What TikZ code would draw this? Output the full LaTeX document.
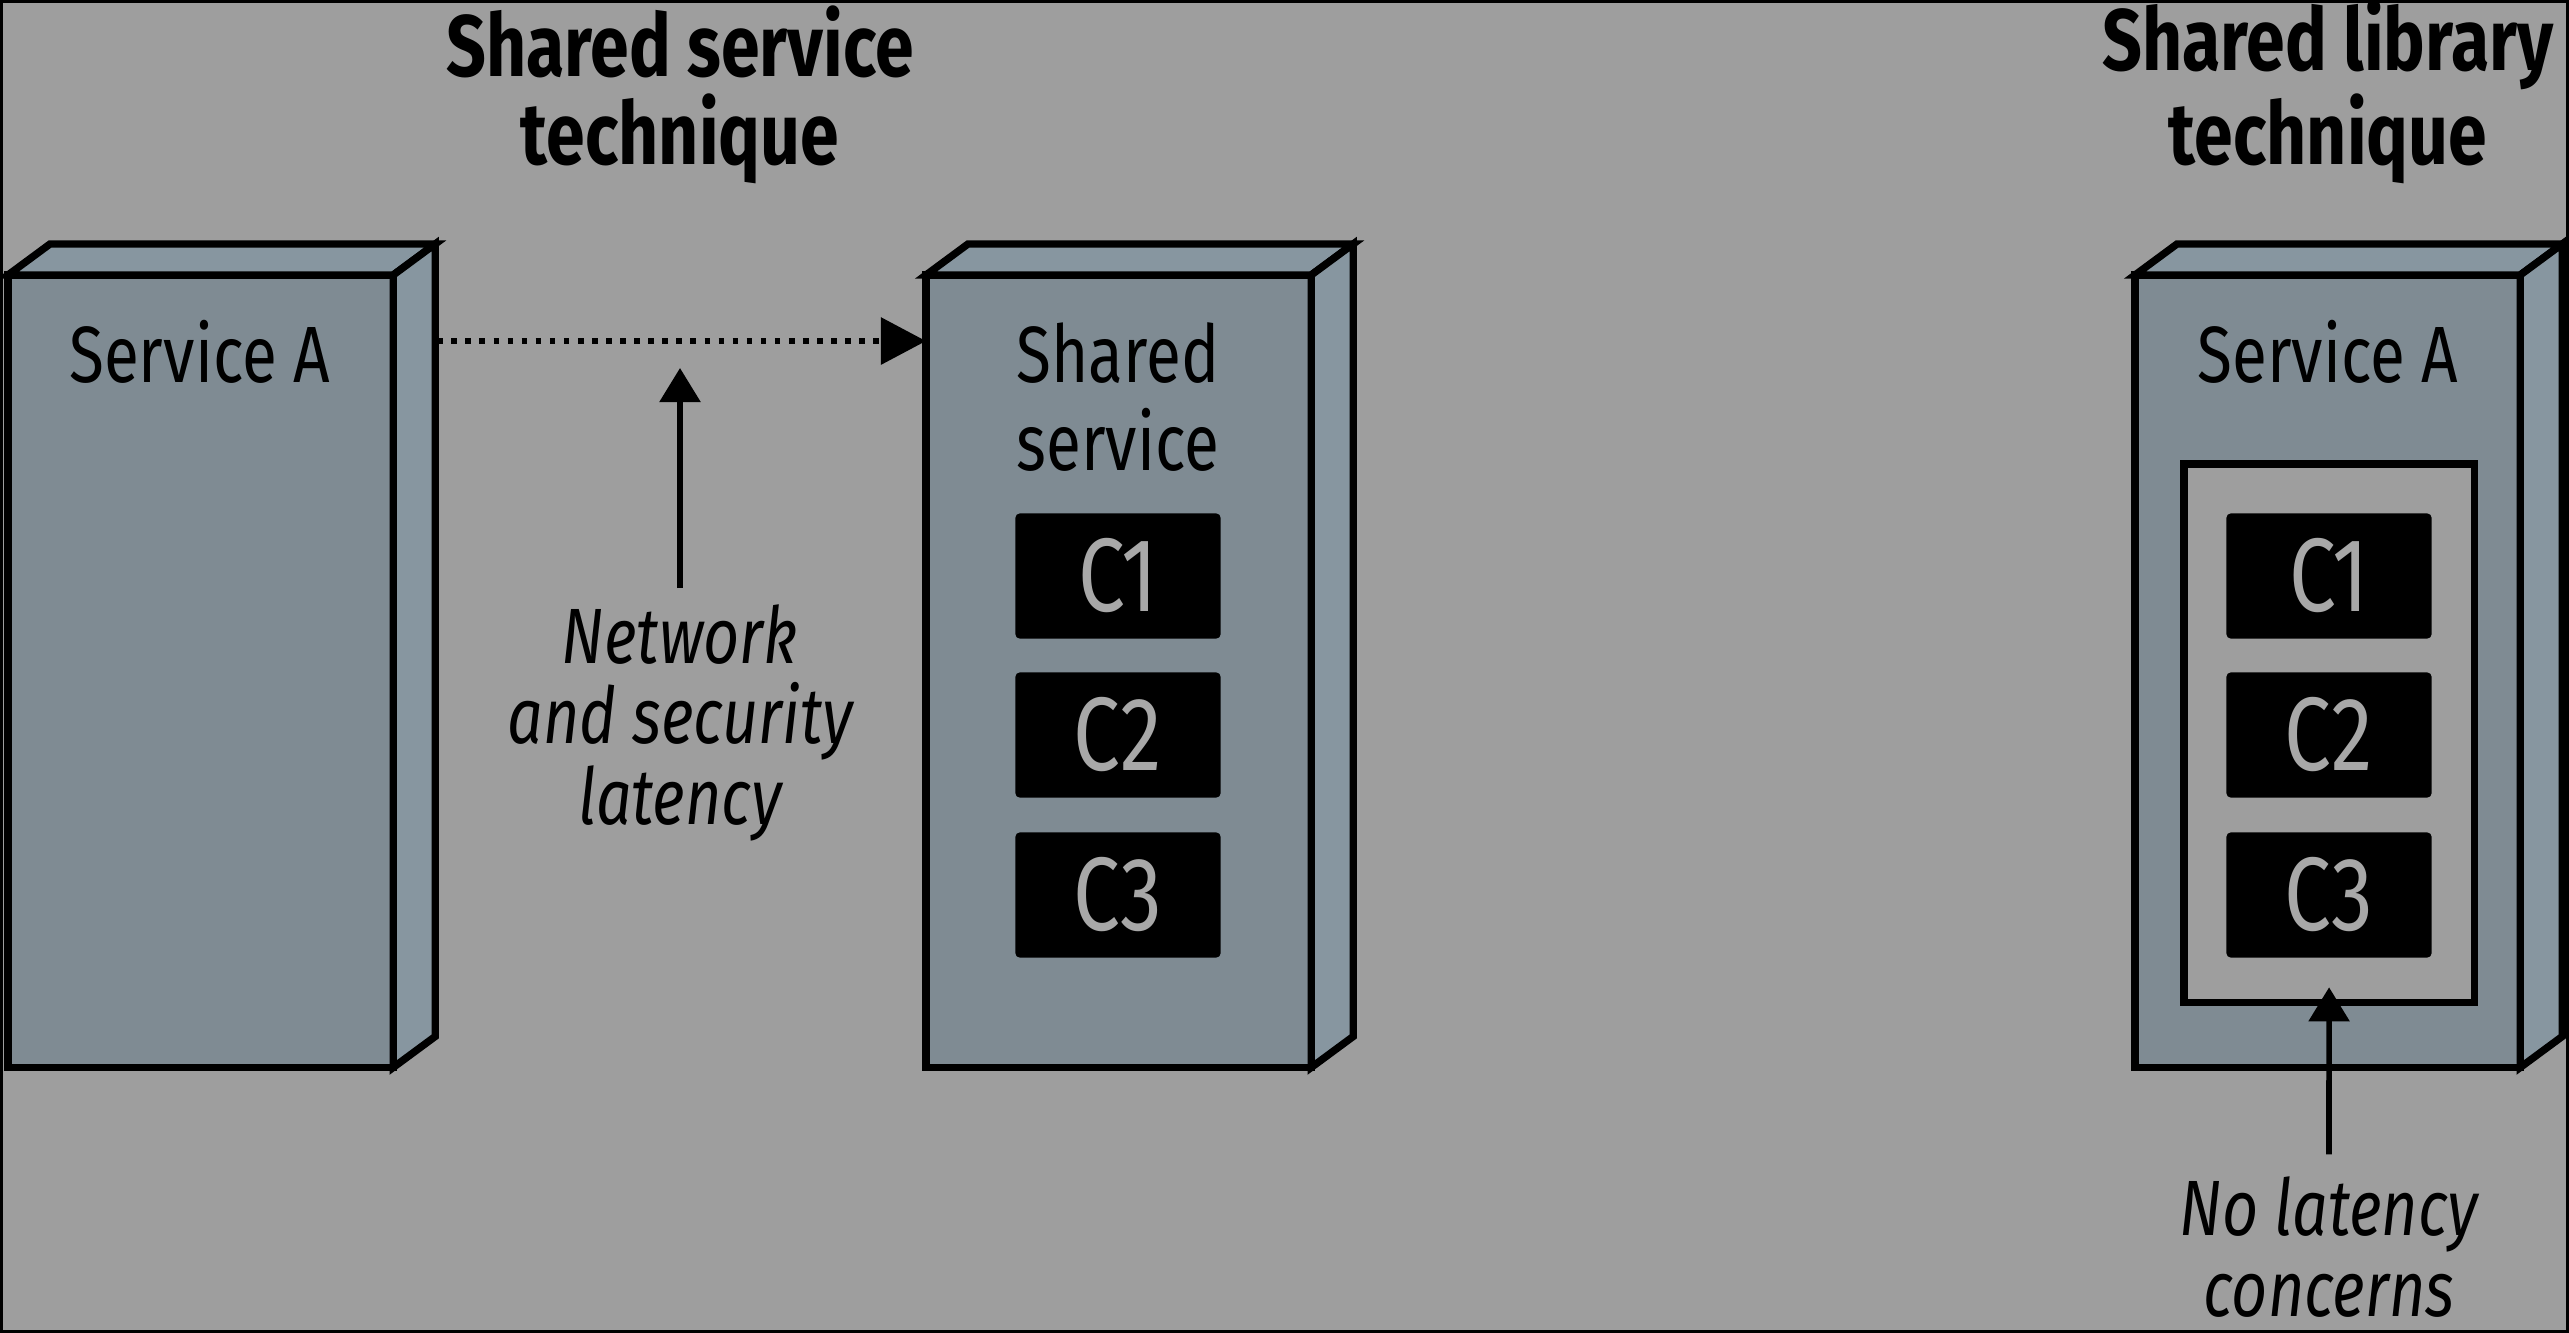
\documentclass[tikz,border=0pt]{standalone}
\usepackage{fontspec}
\setmainfont{Fira Sans}[FakeStretch=0.8]
\usetikzlibrary{arrows.meta}
\definecolor{bg}{HTML}{9E9E9E}
\definecolor{boxfront}{HTML}{7F8B93}
\definecolor{boxside}{HTML}{8796A0}
\definecolor{ctext}{HTML}{A8A8A8}
\newcommand\slabfaces[1]{%
  \draw[face] (#1.north west) -- ++(42,-31) -- ([shift={(42,-31)}]#1.north east) -- (#1.north east) -- cycle;
  \draw[face] (#1.north east) -- ++(42,-31) -- ([shift={(42,-31)}]#1.south east) -- (#1.south east) -- cycle;}
\begin{document}
\begin{tikzpicture}[x=0.01cm,y=-0.01cm,
  front/.style={draw=black, line width=2.1pt, fill=boxfront, minimum width=3.85cm, minimum height=7.92cm, inner sep=0, outer sep=0, anchor=north west},
  face/.style={draw=black, line width=2.1pt, fill=boxside, line join=miter},
  comp/.style={fill=black, rounded corners=1.2pt, minimum width=2.05cm, minimum height=1.25cm, inner sep=0, outer sep=0, text=ctext, font=\fontsize{29.7pt}{30pt}\selectfont},
  lbl/.style={font=\fontsize{22.7pt}{25pt}\selectfont, align=center, inner sep=0},
  ttl/.style={font=\bfseries\fontsize{24.8pt}{24.8pt}\selectfont, align=center, inner sep=0},
  note/.style={font=\itshape\fontsize{22.3pt}{22.8pt}\selectfont, align=center, inner sep=0},
  arr/.style={line width=1.6pt, -{Triangle[length=0.34cm,width=0.40cm]}},
  darr/.style={line width=1.7pt, dash pattern=on 1.6pt off 2.4pt, -{Triangle[length=0.45cm,width=0.46cm]}}
]
\useasboundingbox (0,0) rectangle (2569,1333);
\fill[bg] (0,0) rectangle (2569,1333);
\draw[line width=0.9pt] (1.5,1.5) rectangle (2567.5,1331.5);

% boxes
\node[front] (sa) at (8,275) {};
\slabfaces{sa}
\node[front] (ss) at (926,275) {};
\slabfaces{ss}
\node[front] (sb) at (2135,275) {};
\slabfaces{sb}

% labels in boxes
\node[lbl, anchor=base] (saT) at (200,382) {Service A};
\node[lbl, anchor=base] (ssT) at (1118,470) {Shared\\service};
\node[lbl, anchor=base] (sbT) at (2328,382) {Service A};

% library frame
\node[draw, line width=2.1pt, fill=bg, minimum width=2.90cm, minimum height=5.38cm, inner sep=0, outer sep=0, anchor=north west] (lib) at (2184,464) {};

% components
\node[comp] (c1) at (1118,576) {C1};
\node[comp] (c2) at (1118,735) {C2};
\node[comp] (c3) at (1118,895) {C3};
\node[comp] (d1) at (2329,576) {C1};
\node[comp] (d2) at (2329,735) {C2};
\node[comp] (d3) at (2329,895) {C3};

% titles
\node[ttl, anchor=base] (t1) at (680,164) {Shared service\\technique};
\node[ttl, anchor=base] (t2) at (2328,164) {Shared library\\technique};

% notes
\node[note, anchor=base] (n1) at (680,824) {Network\\and security\\latency};
\node[note, anchor=base] (n2) at (2329,1316) {No latency\\concerns};

% connectors
\draw[darr] ([xshift=0.44cm, yshift=-0.66cm]sa.north east) -- ([yshift=-0.66cm]ss.north west);
\coordinate (latTip) at (680,368);
\draw[arr] ([yshift=0.16cm]n1.north) -- (latTip);
\draw[arr] ([yshift=0.22cm]n2.north) -- ([yshift=0.15cm]lib.south);
\end{tikzpicture}
\end{document}
